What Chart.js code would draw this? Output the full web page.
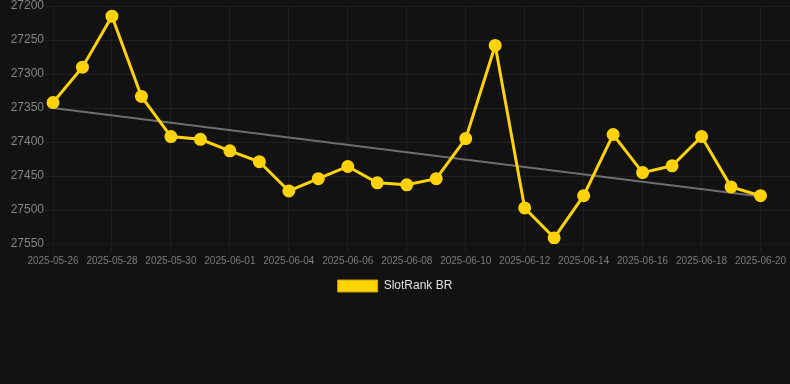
<!DOCTYPE html>
<html>
<head>
<meta charset="utf-8">
<script src="https://cdn.jsdelivr.net/npm/chart.js@4"></script>
<style>
  html, body { margin: 0; padding: 0; background: #121212; }
  #wrap { width: 790px; height: 302px; position: relative; }
</style>
</head>
<body>
<div id="wrap"><canvas id="rank-chart"></canvas></div>
<script>
// one label per data day, the last one has no value (keeps the right edge free)
const dates = [
  '2025-05-26', '2025-05-27', '2025-05-28', '2025-05-29', '2025-05-30', '2025-05-31',
  '2025-06-01', '2025-06-02', '2025-06-04', '2025-06-05', '2025-06-06', '2025-06-07',
  '2025-06-08', '2025-06-09', '2025-06-10', '2025-06-11', '2025-06-12', '2025-06-13',
  '2025-06-14', '2025-06-15', '2025-06-16', '2025-06-17', '2025-06-18', '2025-06-19',
  '2025-06-20', '2025-06-21'
];
const rankValues = [
  27342, 27290, 27215, 27333, 27392, 27396, 27413, 27429, 27472, 27454, 27436, 27460,
  27463, 27454, 27395, 27258, 27497, 27541, 27479, 27389, 27445, 27435, 27392, 27466,
  27479
];
// trend line: only the two ends are known, the rest is spanned
const trendValues = [
  27350, null, null, null, null, null, null, null, null, null, null, null,
  null, null, null, null, null, null, null, null, null, null, null, null,
  27480
];

Chart.defaults.font.family = '"Liberation Sans", Arial, sans-serif';

let rankElement = document.getElementById('rank-chart').getContext('2d');

let rankChart = new Chart(rankElement, {
    type: 'line',
    data: {
        labels: dates,
        datasets: [
            {
                label: 'SlotRank BR',
                data: rankValues,
                borderColor: '#FFD20A',
                backgroundColor: '#FFD20A',
                borderWidth: 3,
                pointRadius: 5,
                pointHoverRadius: 5,
                tension: 0
            },
            {
                label: 'trend',
                data: trendValues,
                borderColor: '#6e6e6e',
                borderWidth: 2,
                pointRadius: 0,
                spanGaps: true
            }
        ]
    },
    options: {
        responsive: true,
        maintainAspectRatio: false,
        animation: false,
        layout: { autoPadding: false },
        plugins: {
            legend: {
                position: 'bottom',
                labels: {
                    color: '#e0e0e0',
                    font: { size: 12 },
                    boxWidth: 40,
                    boxHeight: 12,
                    filter: (item) => item.text !== 'trend',
                    generateLabels: (chart) => {
                        let items = Chart.defaults.plugins.legend.labels.generateLabels(chart);
                        items.forEach((it) => { it.lineWidth = 1; it.strokeStyle = '#c9a400'; });
                        return items;
                    }
                }
            },
            tooltip: { enabled: false }
        },
        scales: {
            x: {
                offset: false,
                grid: { color: '#1f1f1f' },
                afterFit: (s) => { s.paddingRight = 0; },
                ticks: {
                    color: '#7c7c7c',
                    font: { size: 10 },
                    maxRotation: 0,
                    autoSkip: false,
                    callback: function (value, index) {
                        return index % 2 === 0 ? this.getLabelForValue(value) : null;
                    }
                }
            },
            y: {
                reverse: true,
                min: 27200,
                max: 27550,
                grid: { color: '#1f1f1f' },
                afterFit: (s) => { s.width = 53; s.paddingTop = 6; },
                ticks: {
                    stepSize: 50,
                    padding: 1,
                    color: '#858585',
                    font: { size: 12 },
                    callback: (v) => String(v)
                }
            }
        }
    }
});
</script>
</body>
</html>
